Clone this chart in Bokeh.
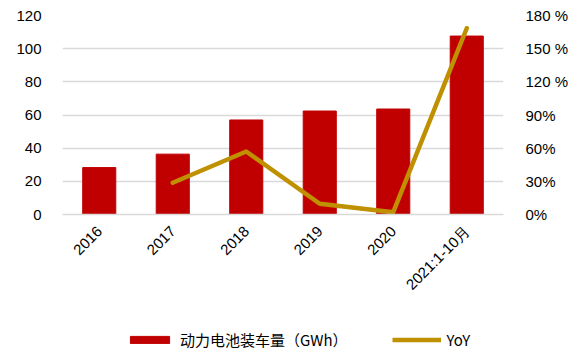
import math
from bokeh.plotting import figure
from bokeh.layouts import column
from bokeh.models import (Range1d, LinearAxis, FixedTicker, Legend, LegendItem,
                          ColumnDataSource, FactorRange)
from bokeh.embed import file_html
from bokeh.resources import INLINE

categories = ["2016", "2017", "2018", "2019", "2020", "2021:1-10月"]
installed_gwh = [28.3, 36.4, 57.0, 62.4, 63.6, 107.6]
yoy_pct = [float("nan"), 28.7, 57.0, 9.7, 2.1, 168.5]
left_ticks = [0, 20, 40, 60, 80, 100, 120]
right_ticks = [0, 30, 60, 90, 120, 150, 180]
right_labels = ["0%", "30%", "60%", "90%", "120 %", "150 %", "180 %"]
series_names = ["动力电池装车量（GWh）", "YoY"]
BAR_COLOR = "#C00000"
LINE_COLOR = "#BF9000"

src = ColumnDataSource(dict(cat=categories, val=installed_gwh, yoy=yoy_pct))

p = figure(width=583, height=325, x_range=FactorRange(*categories, range_padding=0),
           y_range=Range1d(0, 120), output_backend="svg", toolbar_location=None,
           min_border_left=62, min_border_right=80, min_border_top=15, min_border_bottom=111)
p.outline_line_color = None
p.extra_y_ranges = {"pct": Range1d(0, 180)}

p.vbar(x="cat", top="val", width=0.45, source=src, color=BAR_COLOR)
p.line(x="cat", y="yoy", source=src, y_range_name="pct", color=LINE_COLOR,
       line_width=4.5, line_join="round", line_cap="round")

FONT = "Liberation Sans"
p.xgrid.grid_line_color = None
p.ygrid.grid_line_color = "#d9d9d9"
p.ygrid.grid_line_width = 1.5
p.yaxis.ticker = FixedTicker(ticks=left_ticks)

ax = p.yaxis[0]
ax.axis_line_color = None
ax.major_tick_line_color = None
ax.minor_tick_line_color = None
ax.major_label_text_font = FONT
ax.major_label_text_font_size = "15px"
ax.major_label_text_color = "#000000"
ax.major_label_standoff = 15

ra = LinearAxis(y_range_name="pct", ticker=FixedTicker(ticks=right_ticks),
                major_label_overrides={t: l for t, l in zip(right_ticks, right_labels)})
ra.axis_line_color = None
ra.major_tick_line_color = None
ra.minor_tick_line_color = None
ra.major_label_text_font = FONT
ra.major_label_text_font_size = "15px"
ra.major_label_text_color = "#000000"
ra.major_label_standoff = 16
p.add_layout(ra, "right")

xa = p.xaxis[0]
xa.axis_line_color = "#d9d9d9"
xa.axis_line_width = 1.5
xa.major_tick_line_color = None
xa.minor_tick_line_color = None
xa.major_label_orientation = math.pi / 4
xa.major_label_text_font = FONT
xa.major_label_text_font_size = "15px"
xa.major_label_text_color = "#000000"
xa.major_label_standoff = 8

# legend strip below the chart (its frame is aligned with the chart's frame)
nan = float("nan")
lf = figure(width=583, height=36, x_range=Range1d(0, 1), y_range=Range1d(0, 1),
            x_axis_location=None, y_axis_location=None,
            output_backend="svg", toolbar_location=None,
            min_border_left=0, min_border_right=0, min_border_top=0, min_border_bottom=0)
lf.grid.visible = False
lf.outline_line_color = None
dummy = ColumnDataSource(dict(x=[nan], top=[nan], y=[nan]))
lb = lf.vbar(x="x", top="top", width=0.5, source=dummy, color=BAR_COLOR)
ll = lf.line(x="x", y="y", source=dummy, color=LINE_COLOR, line_width=4.5)

legend = Legend(items=[LegendItem(label=series_names[0], renderers=[lb]),
                       LegendItem(label=series_names[1], renderers=[ll])],
                orientation="horizontal", location=(63, 11),
                border_line_color=None, background_fill_alpha=0,
                glyph_width=49, glyph_height=9, label_standoff=6, spacing=44,
                padding=0, margin=0,
                label_text_font="Noto Sans CJK SC", label_text_font_size="15px",
                label_text_color="#000000")
lf.add_layout(legend)

open("out.html", "w").write(file_html(column(p, lf, spacing=0), INLINE))
